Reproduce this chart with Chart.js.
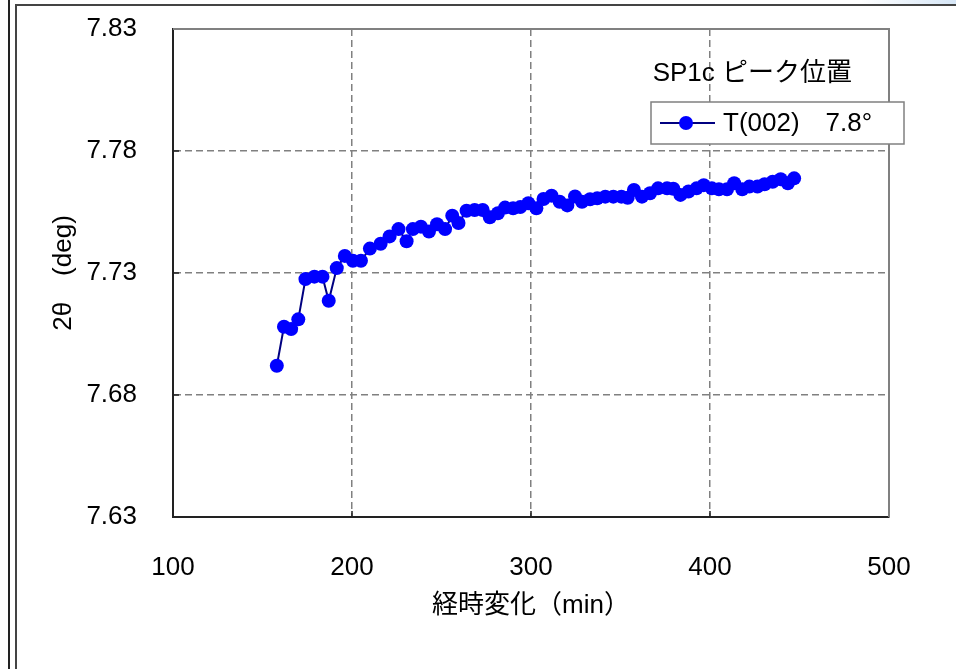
<!DOCTYPE html>
<html>
<head>
<meta charset="utf-8">
<script src="https://cdn.jsdelivr.net/npm/chart.js@4.4.1/dist/chart.umd.min.js"></script>
<style>
  html, body { margin: 0; padding: 0; background: #fff; overflow: hidden; }
  #wrap { position: relative; width: 956px; height: 669px; }
  #strip { position: absolute; left: -2px; top: -2px; width: 8px; height: 700px; border: 2px solid #222; }
  #frame { position: absolute; left: 15px; top: 4px; width: 1000px; height: 700px; border-left: 2px solid #444; border-top: 2px solid #444; }
  #sky { position: absolute; left: 860px; top: 0; width: 96px; height: 4px; background: linear-gradient(90deg, #fff, #d6e6f6); }
  canvas { position: absolute; left: 0; top: 0; }
</style>
</head>
<body>
<div id="wrap">
  <div id="strip"></div>
  <div id="sky"></div>
  <div id="frame"></div>
  <canvas id="chart" width="956" height="669"></canvas>
</div>
<script>
// elapsed time (min) and T(002) peak position 2θ (deg)
const minutes = [158, 162, 166, 170, 174, 179, 183.5, 187, 191.5, 196, 200.5, 205, 210, 216,
  221, 226, 230.5, 234, 238.5, 243, 247.5, 252, 256, 259.5, 264, 268.5, 273, 277, 281.5,
  285.5, 290, 294, 298.5, 303, 307, 311.5, 316, 320.3, 324.6, 328.5, 333, 337, 341.5, 346,
  350.5, 354, 357.5, 362, 366.5, 371, 376, 379.5, 383.5, 388, 392.5, 396.5, 401, 405, 409.5,
  413.5, 418, 422, 426.5, 430.5, 435, 439.5, 443.5, 447];
const peak2theta = [7.692, 7.708, 7.707, 7.711, 7.7275, 7.7285, 7.7285, 7.7186, 7.732, 7.737,
  7.735, 7.735, 7.740, 7.742, 7.745, 7.748, 7.743, 7.748, 7.749, 7.747, 7.750, 7.748, 7.7535,
  7.7505, 7.7555, 7.7558, 7.7558, 7.7528, 7.7545, 7.7568, 7.7565, 7.757, 7.7586, 7.7565, 7.7603,
  7.7617, 7.7592, 7.7577, 7.7614, 7.7592, 7.7602, 7.7606, 7.7613, 7.7613, 7.7613, 7.7608, 7.764,
  7.7613, 7.7627, 7.7647, 7.7647, 7.7645, 7.762, 7.7634, 7.7647, 7.766, 7.7647, 7.7643, 7.7643,
  7.7668, 7.7643, 7.7654, 7.7654, 7.7664, 7.7674, 7.7684, 7.7668, 7.7688];

const xTicks = [100, 200, 300, 400, 500];
const yTicks = [7.63, 7.68, 7.73, 7.78, 7.83];

const seriesName = 'T(002)\u30007.8°';
const chartTitle = 'SP1c ピーク位置';
const xTitle = '経時変化（min）';
const yTitle = '2θ\u3000(deg)';

const FONT = "'Liberation Sans', 'Noto Sans CJK JP', sans-serif";
const FS = 26;
const NAVY = '#000080';
const BLUE = '#0000ff';

const gridColor = c => (c.index === 0 || c.index === 4) ? 'rgba(0,0,0,0)' : '#808080';

// plot box top/right edges, inner tick marks, title and legend
const decor = {
  id: 'decor',
  afterDatasetsDraw(chart) {
    const { ctx, chartArea: a, scales: { x, y } } = chart;
    ctx.save();
    ctx.strokeStyle = '#808080';
    ctx.lineWidth = 2;
    ctx.beginPath();
    ctx.moveTo(a.left, a.top); ctx.lineTo(a.right, a.top); ctx.lineTo(a.right, a.bottom);
    ctx.stroke();
    ctx.strokeStyle = '#222';
    ctx.lineWidth = 1.5;
    ctx.beginPath();
    xTicks.slice(1, -1).forEach(v => {
      const px = x.getPixelForValue(v);
      ctx.moveTo(px, a.bottom); ctx.lineTo(px, a.bottom - 6);
    });
    yTicks.slice(1, -1).forEach(v => {
      const py = y.getPixelForValue(v);
      ctx.moveTo(a.left, py); ctx.lineTo(a.left + 6, py);
    });
    ctx.stroke();

    // title
    ctx.fillStyle = '#000';
    ctx.font = FS + 'px ' + FONT;
    ctx.textBaseline = 'middle';
    ctx.textAlign = 'right';
    ctx.fillText(chartTitle, 852, 74);

    // legend
    const bx = 651, by = 102, bw = 253, bh = 42;
    ctx.fillStyle = '#fff';
    ctx.fillRect(bx, by, bw, bh);
    ctx.strokeStyle = '#808080';
    ctx.lineWidth = 1.5;
    ctx.strokeRect(bx, by, bw, bh);
    const cy = by + bh / 2;
    ctx.strokeStyle = NAVY;
    ctx.lineWidth = 2;
    ctx.beginPath();
    ctx.moveTo(660, cy); ctx.lineTo(715, cy);
    ctx.stroke();
    ctx.fillStyle = BLUE;
    ctx.beginPath();
    ctx.arc(686, cy, 7, 0, Math.PI * 2);
    ctx.fill();
    ctx.fillStyle = '#000';
    ctx.textAlign = 'left';
    ctx.fillText(seriesName, 723, cy + 1);
    ctx.restore();
  }
};

new Chart(document.getElementById('chart'), {
  type: 'line',
  data: {
    datasets: [{
      label: seriesName,
      data: minutes.map((m, i) => ({ x: m, y: peak2theta[i] })),
      borderColor: NAVY,
      borderWidth: 2,
      backgroundColor: BLUE,
      pointBackgroundColor: BLUE,
      pointBorderColor: BLUE,
      pointBorderWidth: 0,
      pointRadius: 7,
      tension: 0,
    }]
  },
  options: {
    responsive: false,
    animation: false,
    layout: { padding: { left: 16, top: 29, right: 67, bottom: 0 } },
    plugins: { legend: { display: false }, tooltip: { enabled: false } },
    scales: {
      x: {
        type: 'linear',
        min: 100, max: 500,
        afterBuildTicks: s => { s.ticks = xTicks.map(v => ({ value: v })); },
        afterFit: s => { s.height = 152; s.paddingLeft = 0; s.paddingRight = 0; },
        ticks: { color: '#000', padding: 35, font: { family: FONT, size: FS }, callback: v => String(v) },
        grid: { color: gridColor, lineWidth: 1.5, drawTicks: false },
        border: { color: '#222', width: 2, dash: [7, 4] },
        title: { display: true, text: xTitle, color: '#000', font: { family: FONT, size: FS }, padding: { top: 0, bottom: 48 } },
      },
      y: {
        min: 7.63, max: 7.83,
        afterBuildTicks: s => { s.ticks = yTicks.map(v => ({ value: v })); },
        afterFit: s => { s.width = 157; s.paddingTop = 0; s.paddingBottom = 0; },
        ticks: { color: '#000', padding: 36, font: { family: FONT, size: FS }, callback: v => v.toFixed(2) },
        grid: { color: gridColor, lineWidth: 1.5, drawTicks: false },
        border: { color: '#222', width: 2, dash: [7, 4] },
        title: { display: true, text: yTitle, color: '#000', font: { family: FONT, size: FS }, padding: { top: 32, bottom: 0 } },
      }
    }
  },
  plugins: [decor]
});
</script>
</body>
</html>
